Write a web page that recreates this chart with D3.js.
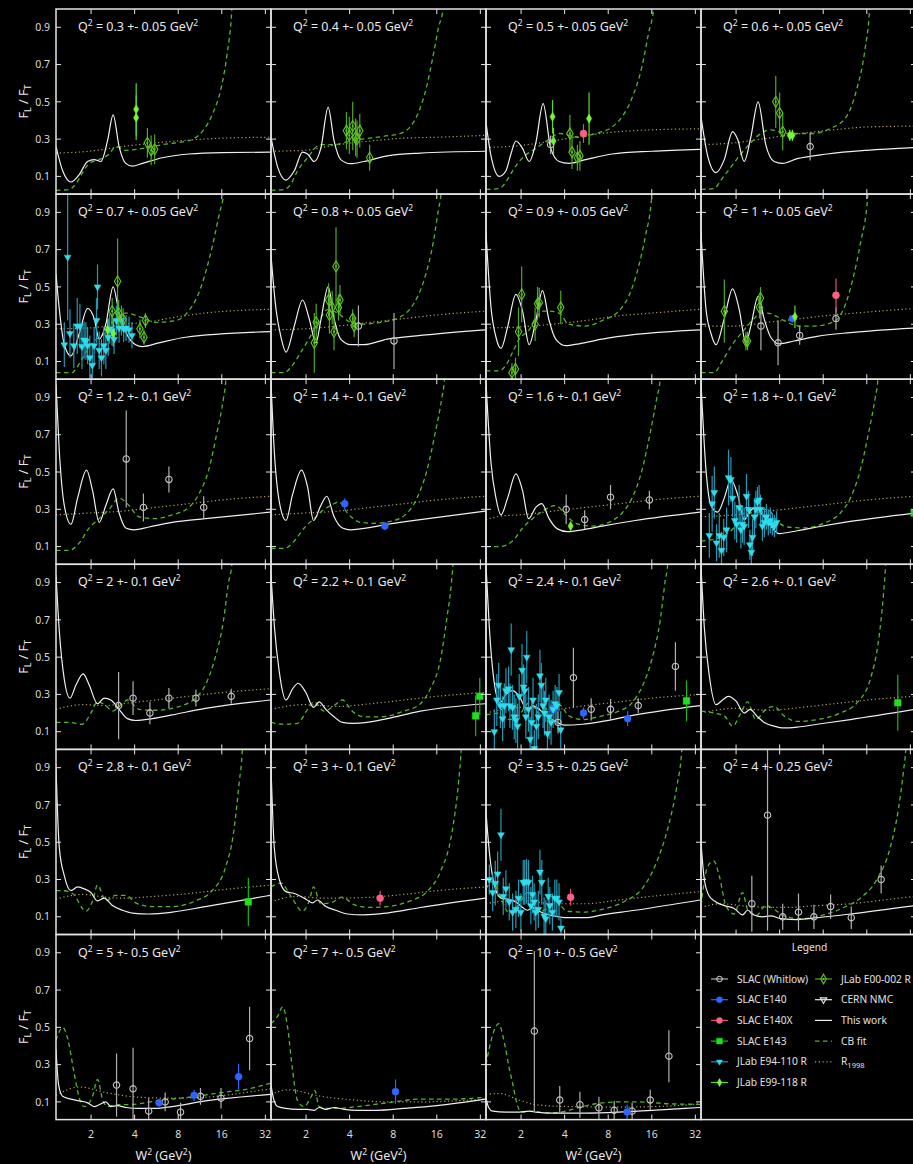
<!DOCTYPE html>
<html>
<head>
<meta charset="utf-8">
<script src="https://cdn.jsdelivr.net/npm/d3@7"></script>
<style>
    html, body { margin: 0; background: #000; }
    svg { display: block; font-family: "Noto Sans", "Open Sans", sans-serif; }
</style>
</head>
<body>
<div id="chart"></div>
<script>
// Q^2 bins, one panel each
const q2Labels = [
    "0.3 +- 0.05", "0.4 +- 0.05", "0.5 +- 0.05", "0.6 +- 0.05",
    "0.7 +- 0.05", "0.8 +- 0.05", "0.9 +- 0.05", "1 +- 0.05",
    "1.2 +- 0.1", "1.4 +- 0.1", "1.6 +- 0.1", "1.8 +- 0.1",
    "2 +- 0.1", "2.2 +- 0.1", "2.4 +- 0.1", "2.6 +- 0.1",
    "2.8 +- 0.1", "3 +- 0.1", "3.5 +- 0.25", "4 +- 0.25",
    "5 +- 0.5", "7 +- 0.5", "10 +- 0.5"
];

const xTicks = [2, 4, 8, 16, 32];
const yTicks = [0.1, 0.3, 0.5, 0.7, 0.9];

// "This work" curves, [W2, R] per panel
const thisWork = [
    [[1.145,.26],[1.273,.13],[1.453,.07],[1.658,.11],[1.892,.18],[2.102,.19],[2.337,.18],[2.597,.29],[2.841,.43],[3.124,.26],[3.472,.17],[3.859,.155],[4.52,.17],[6.2,.2],[9.46,.22],[16.0,.228],[34.5,.23]],
    [[1.145,.31],[1.273,.15],[1.453,.08],[1.658,.13],[1.892,.23],[2.048,.22],[2.276,.18],[2.529,.25],[2.841,.47],[3.124,.29],[3.472,.19],[4.068,.168],[5.024,.18],[7.268,.21],[12.32,.225],[34.5,.235]],
    [[1.145,.39],[1.24,.21],[1.415,.10],[1.572,.13],[1.702,.22],[1.842,.29],[2.048,.25],[2.276,.18],[2.529,.28],[2.841,.49],[3.207,.25],[3.66,.18],[4.288,.17],[5.583,.19],[8.514,.22],[16.0,.235],[34.5,.245]],
    [[1.145,.42],[1.273,.21],[1.453,.12],[1.658,.19],[1.892,.34],[2.048,.30],[2.276,.18],[2.529,.31],[2.841,.50],[3.207,.27],[3.66,.18],[4.176,.17],[5.296,.195],[8.514,.22],[16.0,.24],[34.5,.255]],
    [[1.145,.57],[1.207,.38],[1.307,.19],[1.453,.13],[1.658,.25],[1.892,.385],[2.102,.33],[2.276,.22],[2.529,.30],[2.841,.50],[3.124,.36],[3.565,.24],[4.068,.19],[4.52,.18],[5.885,.20],[9.0,.23],[34.5,.26]],
    [[1.145,.67],[1.24,.38],[1.342,.23],[1.453,.15],[1.658,.29],[1.892,.43],[2.102,.33],[2.337,.20],[2.529,.32],[2.841,.50],[3.124,.33],[3.472,.22],[4.068,.19],[5.024,.19],[7.268,.22],[12.32,.24],[34.5,.27]],
    [[1.145,.79],[1.24,.39],[1.342,.23],[1.453,.17],[1.614,.285],[1.842,.46],[2.048,.37],[2.276,.19],[2.529,.32],[2.811,.48],[3.124,.32],[3.472,.22],[4.068,.185],[5.024,.195],[7.268,.22],[12.32,.245],[34.5,.27]],
    [[1.145,.79],[1.24,.38],[1.342,.25],[1.453,.19],[1.658,.33],[1.892,.49],[2.102,.38],[2.337,.20],[2.529,.29],[2.841,.45],[3.124,.33],[3.472,.23],[3.962,.195],[5.024,.21],[7.268,.235],[12.32,.255],[34.5,.28]],
    [[1.145,.97],[1.207,.61],[1.307,.32],[1.453,.22],[1.614,.36],[1.862,.51],[2.048,.40],[2.276,.23],[2.529,.32],[2.841,.41],[3.124,.28],[3.472,.20],[3.962,.19],[5.024,.205],[7.268,.23],[12.32,.25],[34.5,.285]],
    [[1.145,.98],[1.207,.61],[1.307,.34],[1.453,.24],[1.614,.38],[1.862,.51],[2.048,.42],[2.252,.24],[2.529,.32],[2.781,.37],[3.124,.26],[3.565,.20],[4.068,.19],[5.296,.20],[7.268,.22],[12.32,.245],[34.5,.29]],
    [[1.145,.98],[1.24,.55],[1.342,.36],[1.453,.27],[1.614,.36],[1.842,.49],[2.048,.40],[2.252,.25],[2.529,.31],[2.781,.33],[3.124,.25],[3.565,.195],[4.176,.18],[5.296,.19],[7.268,.21],[12.32,.24],[34.5,.285]],
    [[1.145,.98],[1.24,.51],[1.342,.32],[1.491,.285],[1.658,.36],[1.842,.46],[2.048,.38],[2.276,.245],[2.529,.295],[2.738,.31],[3.043,.27],[3.472,.21],[3.962,.17],[5.296,.185],[7.268,.205],[12.32,.235],[34.5,.28]],
    [[1.145,.94],[1.207,.64],[1.307,.38],[1.43,.28],[1.572,.35],[1.766,.41],[1.942,.35],[2.216,.25],[2.463,.28],[2.738,.27],[3.124,.22],[3.565,.17],[4.068,.16],[5.296,.17],[7.268,.19],[12.32,.225],[34.5,.27]],
    [[1.145,.94],[1.207,.67],[1.307,.42],[1.453,.27],[1.614,.33],[1.766,.36],[1.994,.31],[2.252,.23],[2.463,.26],[2.738,.22],[3.124,.18],[3.565,.15],[4.176,.145],[5.296,.15],[7.268,.17],[12.32,.21],[34.5,.25]],
    [[1.145,.99],[1.207,.66],[1.307,.36],[1.43,.255],[1.572,.30],[1.748,.32],[1.942,.29],[2.216,.215],[2.399,.24],[2.666,.22],[3.043,.18],[3.472,.155],[3.962,.135],[5.296,.14],[7.268,.155],[12.32,.19],[34.5,.24]],
    [[1.145,.99],[1.207,.66],[1.307,.40],[1.453,.245],[1.614,.27],[1.766,.29],[1.994,.265],[2.276,.20],[2.503,.22],[2.811,.18],[3.207,.145],[3.66,.13],[4.176,.12],[5.296,.125],[7.268,.14],[12.32,.165],[34.5,.22]],
    [[1.145,.90],[1.207,.47],[1.307,.32],[1.453,.24],[1.614,.26],[1.794,.25],[1.994,.23],[2.216,.185],[2.463,.20],[2.811,.16],[3.293,.135],[3.859,.12],[5.024,.115],[7.268,.125],[12.32,.155],[34.5,.215]],
    [[1.145,.90],[1.207,.47],[1.307,.30],[1.453,.235],[1.658,.225],[1.942,.20],[2.216,.175],[2.399,.19],[2.738,.155],[3.207,.135],[3.859,.115],[5.024,.11],[7.268,.12],[12.32,.15],[34.5,.20]],
    [[1.145,.66],[1.207,.45],[1.307,.27],[1.453,.20],[1.614,.195],[1.842,.18],[2.048,.15],[2.216,.135],[2.399,.15],[2.666,.13],[3.124,.11],[3.66,.10],[4.288,.095],[5.583,.095],[7.268,.11],[12.32,.135],[34.5,.19]],
    [[1.145,.50],[1.207,.30],[1.307,.21],[1.453,.18],[1.658,.16],[1.942,.145],[2.216,.11],[2.399,.135],[2.666,.11],[3.043,.10],[3.472,.105],[4.068,.09],[5.296,.085],[7.268,.095],[12.32,.115],[34.5,.16]],
    [[1.145,.38],[1.194,.19],[1.273,.13],[1.453,.115],[1.658,.105],[1.892,.095],[2.102,.075],[2.276,.085],[2.529,.10],[2.738,.075],[3.043,.08],[3.472,.07],[4.288,.065],[5.583,.065],[7.268,.075],[12.32,.105],[34.5,.14]],
    [[1.145,.19],[1.194,.115],[1.273,.075],[1.453,.065],[1.748,.06],[2.048,.06],[2.276,.055],[2.463,.07],[2.738,.06],[3.124,.07],[3.66,.06],[4.52,.055],[6.204,.055],[9.462,.065],[16.0,.08],[34.5,.115]],
    [[1.145,.12],[1.194,.07],[1.273,.05],[1.572,.045],[1.942,.045],[2.276,.05],[2.529,.045],[3.293,.04],[5.583,.04],[9.462,.045],[16.0,.055],[34.5,.07]]
];

// CB fit curves
const cbFit = [
    [[1.145,.025],[1.415,.03],[1.572,.06],[1.748,.12],[1.942,.17],[2.276,.19],[2.666,.22],[2.963,.26],[3.472,.24],[4.52,.25],[6.204,.27],[8.514,.285],[10.13,.30],[11.87,.345],[13.9,.44],[15.9,.58],[17.36,.75],[18.79,1.0],[19.6,1.3]],
    [[1.145,.025],[1.415,.03],[1.572,.06],[1.748,.13],[2.048,.20],[2.503,.27],[3.09,.27],[4.03,.29],[6.85,.315],[8.92,.33],[10.45,.365],[12.06,.45],[13.6,.58],[15.2,.76],[16.46,.90],[17.7,1.0],[18.5,1.3]],
    [[1.145,.03],[1.415,.035],[1.572,.07],[1.748,.13],[2.048,.20],[2.529,.25],[3.124,.30],[3.66,.33],[5.024,.31],[6.54,.33],[8.514,.365],[9.974,.42],[11.68,.52],[13.69,.69],[15.21,.87],[16.46,1.0],[17.3,1.3]],
    [[1.145,.03],[1.415,.035],[1.572,.08],[1.842,.15],[2.159,.22],[2.529,.28],[2.963,.33],[3.472,.35],[4.46,.33],[6.81,.33],[8.87,.355],[11.56,.42],[13.55,.56],[15.47,.77],[16.74,1.0],[17.5,1.3]],
    [[1.145,.04],[1.491,.04],[1.572,.06],[1.748,.12],[2.048,.20],[2.529,.26],[2.841,.32],[3.52,.36],[4.34,.34],[5.66,.31],[7.77,.32],[9.11,.357],[11.26,.48],[13.2,.66],[15.47,.90],[16.48,1.0],[17.3,1.3]],
    [[1.145,.04],[1.415,.04],[1.572,.07],[1.842,.15],[2.159,.24],[2.463,.32],[2.841,.38],[3.293,.36],[4.068,.31],[4.765,.30],[6.54,.31],[8.975,.34],[11.08,.41],[12.98,.53],[15.21,.75],[16.46,.92],[17.1,1.0],[17.8,1.3]],
    [[1.145,.05],[1.415,.05],[1.572,.08],[1.748,.15],[1.942,.22],[2.276,.27],[2.529,.33],[2.811,.37],[3.124,.37],[3.66,.36],[4.288,.30],[5.583,.29],[7.268,.32],[9.462,.37],[11.08,.45],[12.98,.61],[14.43,.77],[16.04,1.0],[16.9,1.3]],
    [[1.145,.04],[1.415,.04],[1.572,.09],[1.842,.18],[2.276,.27],[2.666,.33],[2.963,.36],[3.293,.36],[3.859,.34],[4.52,.31],[5.583,.29],[6.81,.29],[9.3,.31],[11.56,.42],[12.98,.56],[14.43,.73],[16.3,1.0],[17.1,1.3]],
    [[1.145,.08],[1.415,.08],[1.658,.12],[1.942,.20],[2.276,.25],[2.666,.30],[3.124,.36],[3.66,.32],[4.288,.26],[5.583,.25],[7.268,.27],[9.462,.31],[11.08,.38],[12.98,.51],[14.8,.71],[16.46,.90],[17.1,1.0],[17.8,1.3]],
    [[1.145,.09],[1.415,.09],[1.658,.13],[1.942,.20],[2.276,.25],[2.666,.30],[2.963,.32],[3.381,.34],[3.859,.28],[4.765,.23],[5.885,.225],[7.662,.235],[9.974,.28],[11.68,.36],[13.69,.51],[15.6,.71],[17.36,.90],[18.1,1.0],[18.9,1.3]],
    [[1.145,.10],[1.415,.10],[1.748,.13],[2.048,.20],[2.399,.25],[2.811,.29],[3.472,.32],[4.068,.27],[4.765,.225],[6.204,.21],[8.077,.23],[9.974,.28],[11.68,.36],[13.69,.51],[15.6,.71],[17.36,.90],[18.3,1.0],[19.1,1.3]],
    [[1.145,.13],[1.415,.14],[1.748,.17],[2.048,.22],[2.399,.27],[2.811,.30],[3.293,.30],[3.859,.235],[4.52,.205],[5.885,.20],[8.077,.225],[10.51,.28],[12.32,.36],[14.43,.51],[16.46,.71],[18.3,.90],[19.1,1.0],[19.9,1.3]],
    [[1.145,.15],[1.415,.15],[1.748,.14],[1.994,.20],[2.216,.26],[2.529,.24],[2.811,.21],[3.293,.25],[3.565,.27],[4.288,.22],[5.583,.215],[8.514,.24],[10.51,.28],[12.32,.35],[14.43,.50],[16.46,.70],[17.8,.90],[18.79,1.0],[19.6,1.3]],
    [[1.145,.15],[1.415,.14],[1.748,.145],[2.048,.22],[2.276,.26],[2.666,.21],[3.124,.24],[3.565,.27],[4.176,.21],[5.024,.18],[6.54,.18],[9.462,.21],[12.32,.25],[14.43,.33],[16.9,.48],[18.79,.71],[20.2,.90],[20.7,1.0],[21.5,1.3]],
    [[1.145,.19],[1.415,.20],[1.658,.165],[1.942,.19],[2.276,.255],[2.666,.20],[3.124,.235],[3.66,.245],[4.288,.185],[5.296,.165],[7.268,.185],[9.462,.21],[11.68,.255],[13.69,.34],[16.04,.49],[18.3,.70],[19.81,.91],[20.6,1.0],[21.4,1.3]],
    [[1.145,.21],[1.415,.20],[1.658,.185],[1.892,.13],[2.159,.20],[2.399,.26],[2.738,.165],[3.207,.22],[3.66,.235],[4.288,.185],[5.296,.155],[7.268,.165],[10.51,.20],[13.69,.255],[16.9,.38],[19.29,.59],[20.88,.84],[21.6,1.0],[22.4,1.3]],
    [[1.145,.24],[1.273,.24],[1.491,.225],[1.842,.13],[2.048,.185],[2.216,.27],[2.529,.185],[2.963,.215],[3.472,.215],[4.068,.175],[5.296,.155],[7.268,.155],[10.51,.185],[13.69,.24],[16.9,.36],[19.29,.55],[21.1,.82],[22.2,1.0],[23.0,1.3]],
    [[1.145,.26],[1.342,.28],[1.572,.21],[1.892,.13],[2.102,.185],[2.252,.26],[2.529,.17],[2.963,.175],[3.565,.205],[4.288,.165],[5.583,.15],[7.268,.155],[10.51,.185],[13.69,.235],[16.9,.34],[20.34,.55],[22.6,.82],[23.6,1.0],[24.5,1.3]],
    [[1.145,.25],[1.273,.29],[1.415,.22],[1.658,.12],[1.942,.17],[2.216,.23],[2.529,.12],[2.963,.14],[3.472,.18],[4.176,.13],[5.296,.125],[7.268,.14],[10.51,.185],[13.69,.25],[16.9,.375],[20.88,.59],[23.83,.80],[25.8,1.0],[26.8,1.3]],
    [[1.145,.16],[1.273,.37],[1.40,.40],[1.531,.32],[1.702,.16],[1.942,.115],[2.216,.23],[2.399,.14],[2.738,.105],[3.207,.16],[3.66,.14],[4.288,.105],[5.583,.09],[7.662,.105],[11.08,.15],[14.43,.20],[18.79,.30],[23.21,.47],[26.49,.68],[28.67,.88],[29.75,1.0],[31.0,1.3]],
    [[1.145,.43],[1.273,.50],[1.378,.44],[1.531,.25],[1.658,.12],[1.794,.075],[2.048,.13],[2.216,.22],[2.399,.115],[2.597,.075],[2.963,.085],[3.472,.085],[4.288,.09],[5.583,.105],[9.462,.125],[16.04,.15],[24.47,.17],[34.5,.20]],
    [[1.145,.52],[1.273,.56],[1.378,.61],[1.491,.50],[1.614,.27],[1.748,.105],[1.942,.075],[2.159,.125],[2.30,.16],[2.463,.075],[2.811,.065],[3.293,.065],[4.52,.075],[7.268,.095],[12.32,.115],[20.88,.115],[34.5,.125]],
    [[1.145,.30],[1.273,.46],[1.40,.52],[1.531,.42],[1.658,.28],[1.748,.20],[1.892,.08],[1.994,.045],[2.399,.05],[2.963,.04],[3.758,.045],[5.024,.07],[6.54,.09],[9.462,.10],[12.98,.10],[20.88,.09],[34.5,.087]]
];

// R1998 parametrisation
const r1998 = [
    [[1.145,.225],[1.942,.235],[3.293,.26],[5.583,.28],[9.462,.295],[16.04,.305],[34.5,.31]],
    [[1.145,.235],[1.942,.24],[3.293,.27],[5.583,.29],[9.462,.305],[16.04,.31],[34.5,.32]],
    [[1.145,.255],[1.942,.265],[3.293,.29],[5.583,.32],[9.462,.34],[16.04,.35],[34.5,.355]],
    [[1.145,.27],[1.942,.28],[3.293,.305],[5.583,.33],[9.462,.35],[16.04,.365],[34.5,.37]],
    [[1.145,.275],[1.942,.28],[3.293,.30],[4.765,.31],[7.268,.335],[12.32,.36],[34.5,.38]],
    [[1.145,.27],[1.942,.275],[3.293,.29],[5.583,.31],[9.462,.33],[16.04,.35],[34.5,.37]],
    [[1.145,.28],[1.942,.285],[3.293,.30],[5.583,.32],[9.462,.345],[16.04,.36],[34.5,.38]],
    [[1.145,.29],[1.942,.29],[3.293,.31],[5.583,.33],[9.462,.35],[16.04,.365],[34.5,.385]],
    [[1.145,.27],[1.942,.28],[3.293,.29],[5.583,.31],[9.462,.33],[16.04,.35],[34.5,.37]],
    [[1.145,.27],[1.942,.28],[3.293,.29],[5.583,.31],[9.462,.33],[16.04,.35],[34.5,.37]],
    [[1.145,.245],[1.491,.265],[1.942,.27],[3.293,.29],[5.583,.31],[9.462,.33],[16.04,.35],[34.5,.37]],
    [[1.145,.26],[1.942,.27],[3.293,.29],[5.583,.31],[9.462,.33],[16.04,.35],[34.5,.37]],
    [[1.145,.22],[1.748,.245],[2.529,.24],[3.293,.25],[5.583,.27],[9.462,.29],[16.04,.31],[34.5,.33]],
    [[1.145,.22],[1.942,.245],[3.293,.235],[5.583,.25],[9.462,.27],[16.04,.29],[34.5,.31]],
    [[1.145,.20],[1.942,.23],[3.293,.22],[5.583,.24],[9.462,.26],[16.04,.28],[34.5,.30]],
    [[1.145,.20],[1.942,.225],[3.293,.215],[5.583,.23],[9.462,.25],[16.04,.27],[34.5,.29]],
    [[1.145,.195],[1.748,.22],[2.529,.205],[3.293,.20],[5.583,.21],[9.462,.225],[16.04,.245],[34.5,.27]],
    [[1.145,.18],[1.748,.21],[2.529,.20],[3.293,.20],[5.583,.205],[9.462,.22],[16.04,.24],[34.5,.26]],
    [[1.145,.17],[1.942,.19],[3.293,.17],[5.583,.17],[9.462,.19],[16.04,.21],[34.5,.235]],
    [[1.145,.15],[1.572,.17],[2.529,.155],[4.288,.15],[7.268,.16],[12.32,.17],[20.88,.19],[34.5,.21]],
    [[1.145,.135],[1.658,.18],[2.529,.15],[4.288,.125],[7.268,.12],[12.32,.125],[20.88,.145],[34.5,.17]],
    [[1.145,.14],[1.491,.165],[2.529,.13],[4.288,.11],[7.268,.10],[12.32,.10],[20.88,.105],[34.5,.115]],
    [[1.145,.14],[1.415,.145],[1.942,.11],[2.529,.085],[4.288,.075],[9.462,.072],[20.88,.078],[34.5,.09]]
];

// measurements: [panel, W2, R, error]
const slacWhitlow = [
    [2,3.2,.27,.05],[3,6.5,.26,.075],[5,4.6,.29,.11],[5,8.1,.21,.15],
    [7,2.97,.29,.13],[7,3.9,.20,.12],[7,5.5,.24,.05],[7,9.8,.33,.06],
    [8,3.5,.57,.26],[8,4.6,.31,.075],[8,6.9,.46,.07],[8,12.0,.31,.06],
    [10,4.1,.30,.08],[10,5.5,.245,.05],[10,8.3,.365,.065],[10,15.4,.35,.05],
    [12,3.1,.24,.18],[12,3.9,.28,.09],[12,5.1,.20,.06],[12,6.9,.28,.055],[12,10.6,.28,.045],[12,18.6,.29,.04],
    [14,3.6,.15,.06],[14,4.6,.39,.16],[14,6.1,.22,.06],[14,8.3,.22,.055],[14,12.9,.24,.04],[14,23.3,.45,.13],
    [19,2.57,.17,.15],[19,3.3,.645,.62],[19,4.2,.10,.07],[19,5.4,.125,.1],[19,6.9,.10,.065],[19,9.0,.155,.065],[19,12.5,.095,.06],[19,20.1,.30,.075],
    [20,3.0,.19,.17],[20,3.9,.17,.22],[20,5.0,.05,.07],[20,6.5,.10,.05],[20,8.3,.045,.05],[20,11.4,.13,.045],[20,15.8,.12,.055],[20,24.9,.44,.17],
    [22,2.47,.48,.43],[22,3.7,.11,.075],[22,5.1,.085,.07],[22,6.9,.068,.06],[22,8.8,.055,.05],[22,11.7,.05,.045],[22,15.6,.11,.055],[22,21,.345,.14]
];

const slacE140 = [
    [7,4.9,.33,.02],[9,3.7,.33,.03],[9,7.0,.21,.02],[14,3.35,.22,.03],[14,5.4,.20,.03],[14,10.9,.17,.04],
    [20,5.9,.095,.02],[20,10.3,.135,.03],[20,20.9,.235,.07],[21,8.3,.155,.065],[22,10.8,.046,.04]
];

const slacE140X = [
    [2,5.4,.33,.05],[7,9.8,.455,.09],[17,6.5,.20,.04],[18,4.4,.205,.045]
];

const slacE143 = [
    [11,34.0,.28,.03],[13,29.7,.185,.11],[13,31.7,.29,.1],[14,27.8,.265,.11],[15,26.2,.255,.15],[16,24.4,.18,.13]
];

const jlabE94110 = [
    [4,1.307,.19,.12],[4,1.378,.66,.34],[4,1.43,.25,.13],[4,1.52,.185,.12],[4,1.605,.29,.15],[4,1.675,.29,.12],[4,1.73,.18,.12],[4,1.79,.215,.1],[4,1.842,.21,.1],[4,1.892,.185,.1],
    [4,1.96,.12,.12],[4,2.04,.08,.1],[4,2.10,.185,.1],[4,2.18,.32,.12],[4,2.216,.50,.12],[4,2.276,.16,.1],[4,2.36,.12,.1],[4,2.45,.185,.1],[4,2.53,.16,.1],[4,2.63,.23,.1],
    [4,2.69,.275,.08],[4,2.79,.265,.08],[4,2.886,.22,.08],[4,2.99,.32,.08],[4,3.124,.28,.08],[4,3.24,.32,.08],[4,3.36,.275,.07],[4,3.49,.28,.07],[4,3.66,.27,.07],[4,3.83,.24,.07],
    [11,1.307,.16,.12],[11,1.367,.33,.15],[11,1.415,.39,.14],[11,1.466,.12,.1],[11,1.531,.16,.12],[11,1.586,.08,.1],[11,1.644,.15,.1],[11,1.72,.19,.12],[11,1.775,.47,.15],[11,1.842,.46,.12],
    [11,1.892,.36,.1],[11,1.96,.24,.1],[11,2.017,.22,.1],[11,2.10,.31,.12],[11,2.159,.19,.1],[11,2.216,.22,.1],[11,2.276,.21,.1],[11,2.36,.37,.12],[11,2.44,.30,.1],[11,2.49,.11,.08],
    [11,2.55,.07,.08],[11,2.60,.15,.1],[11,2.68,.26,.1],[11,2.74,.30,.1],[11,2.81,.34,.08],[11,2.886,.35,.08],[11,2.95,.30,.08],[11,3.04,.21,.08],[11,3.14,.23,.08],[11,3.24,.26,.07],
    [11,3.34,.23,.07],[11,3.45,.24,.07],[11,3.565,.22,.06],[11,3.68,.21,.06],[11,3.81,.23,.06],
    [14,1.307,.10,.12],[14,1.36,.27,.14],[14,1.40,.35,.12],[14,1.44,.24,.12],[14,1.491,.17,.12],[14,1.531,.24,.12],[14,1.572,.32,.12],[14,1.64,.33,.12],[14,1.675,.24,.12],[14,1.71,.54,.14],
    [14,1.748,.23,.12],[14,1.794,.18,.12],[14,1.842,.16,.12],[14,1.892,.13,.12],[14,1.942,.29,.12],[14,2.03,.43,.14],[14,2.08,.34,.12],[14,2.12,.32,.12],[14,2.159,.18,.12],[14,2.19,.50,.14],
    [14,2.252,.22,.12],[14,2.31,.06,.12],[14,2.37,.15,.12],[14,2.42,.27,.12],[14,2.47,.01,.1],[14,2.55,.13,.12],[14,2.63,.18,.12],[14,2.70,.40,.14],[14,2.76,.35,.12],[14,2.84,.24,.12],
    [14,2.90,.20,.12],[14,2.963,.27,.12],[14,3.043,.09,.12],[14,3.124,.18,.12],[14,3.225,.15,.12],[14,3.33,.22,.1],[14,3.44,.25,.1],[14,3.54,.24,.1],[14,3.66,.31,.1],[14,3.758,.11,.1],
    [18,1.207,.30,.08],[18,1.273,.23,.1],[18,1.327,.28,.12],[18,1.378,.33,.12],[18,1.453,.54,.14],[18,1.507,.21,.1],[18,1.572,.25,.1],[18,1.658,.18,.1],[18,1.748,.125,.1],[18,1.842,.14,.1],
    [18,1.923,.20,.1],[18,1.994,.125,.1],[18,2.07,.285,.12],[18,2.12,.285,.12],[18,2.18,.29,.12],[18,2.252,.285,.12],[18,2.337,.16,.1],[18,2.399,.22,.1],[18,2.463,.18,.1],[18,2.529,.125,.1],
    [18,2.63,.14,.1],[18,2.70,.34,.12],[18,2.78,.285,.12],[18,2.886,.105,.1],[18,2.963,.09,.1],[18,3.08,.21,.1],[18,3.16,.16,.1],[18,3.293,.125,.1],[18,3.42,.20,.1],[18,3.53,.20,.1],
    [18,3.66,.18,.1],[18,3.77,.04,.06]
];

const jlabE99118 = [
    [0,4.1,.46,.14],[0,4.1,.415,.12],[2,3.3,.42,.09],[2,3.35,.29,.07],[2,5.9,.41,.14],
    [3,4.7,.32,.03],[3,4.9,.32,.03],[4,2.6,.27,.06],[4,2.85,.25,.07],[7,5.1,.34,.06],[10,4.4,.21,.02]
];

const jlabE00002 = [
    [0,4.9,.28,.08],[0,5.2,.24,.08],[0,5.5,.245,.08],
    [1,3.8,.345,.1],[1,3.98,.32,.1],[1,4.2,.37,.13],[1,4.4,.31,.1],[1,4.5,.30,.1],[1,4.7,.345,.09],[1,5.5,.20,.07],
    [2,4.35,.33,.1],[2,4.5,.23,.09],[2,4.9,.20,.07],[2,5.1,.21,.08],
    [3,3.76,.50,.14],[3,4.0,.44,.11],[3,4.2,.34,.1],
    [4,2.8,.37,.07],[4,3.05,.53,.23],[4,3.1,.36,.07],[4,3.33,.325,.06],[4,4.35,.275,.05],[4,4.64,.23,.04],[4,4.75,.32,.04],
    [5,2.28,.20,.16],[5,2.35,.31,.1],[5,2.86,.43,.09],[5,2.9,.35,.1],[5,3.03,.39,.09],[5,3.12,.26,.1],[5,3.22,.61,.21],[5,3.35,.39,.07],[5,3.43,.43,.08],[5,4.2,.33,.05],[5,4.3,.29,.06],
    [6,1.73,.04,.05],[6,1.83,.06,.06],[6,1.92,.26,.13],[6,2.02,.46,.15],[6,2.5,.30,.09],[6,2.6,.41,.09],[6,2.67,.415,.08],[6,3.76,.39,.09],
    [7,1.66,.37,.17],[7,2.34,.21,.05],[7,2.4,.21,.05],[7,2.9,.39,.06],[7,2.95,.44,.06]
];

const cernNMC = [];

const pw = 215, ph = 185.1;
const leftEdge = 56, topEdge = 9;
const frameColor = "#e4e4e4";

const svg = d3.select("#chart").append("svg")
    .attr("width", 913)
    .attr("height", 1164);

svg.append("rect").attr("width", 913).attr("height", 1164).attr("fill", "#000");

const x = d3.scaleLog().domain([1.145, 35]).range([0, pw]);
const y = d3.scaleLinear().domain([0.005, 0.998]).range([ph, 0]);

const line = d3.line()
    .x(d => x(d[0]))
    .y(d => y(d[1]))
    .curve(d3.curveMonotoneX);

const series = [
    {name: "SLAC (Whitlow)", data: slacWhitlow, color: "#c4c4c4", bar: "#b0b0b0", symbol: d3.symbolCircle, size: 32, open: true},
    {name: "SLAC E140", data: slacE140, color: "#2c66ff", bar: "#2c66ff", symbol: d3.symbolCircle, size: 38},
    {name: "SLAC E140X", data: slacE140X, color: "#ff5f86", bar: "#e0507a", symbol: d3.symbolCircle, size: 38},
    {name: "SLAC E143", data: slacE143, color: "#1ee01e", bar: "#1cb81c", symbol: d3.symbolSquare, size: 44},
    {name: "JLab E94-110 R", data: jlabE94110, color: "#2fdcec", bar: "#2399b4", symbol: d3.symbolTriangle, size: 20, flip: true},
    {name: "JLab E99-118 R", data: jlabE99118, color: "#78f536", bar: "#5ed82a", symbol: d3.symbolDiamond, size: 24},
    {name: "JLab E00-002 R", data: jlabE00002, color: "#5fc624", bar: "#4fa824", symbol: d3.symbolDiamond, size: 36, open: true, dot: true},
    {name: "CERN NMC", data: cernNMC, color: "#e8e8e8", bar: "#e8e8e8", symbol: d3.symbolTriangle, size: 24, flip: true, open: true}
];

const lineStyles = [
    {name: "This work", data: thisWork, color: "#efefef", dash: null, width: 1.2},
    {name: "CB fit", data: cbFit, color: "#55b52a", dash: "4.5,3.5", width: 1.3},
    {name: "R", sub: "1998", data: r1998, color: "#b4a25a", dash: "1.2,2.6", width: 1.2}
];

function drawMarker(g, s, cx, cy) {
    g.append("path")
        .attr("d", d3.symbol(s.symbol, s.size)())
        .attr("transform", `translate(${cx},${cy})` + (s.flip ? " rotate(180)" : ""))
        .attr("fill", s.open ? "none" : s.color)
        .attr("stroke", s.color)
        .attr("stroke-width", s.open ? 1.1 : 0.5);
    if (s.dot) {
        g.append("circle").attr("cx", cx).attr("cy", cy).attr("r", 1.1).attr("fill", s.color);
    }
}

function drawPanel(i) {
    const row = Math.floor(i / 4), col = i % 4;
    const x0 = leftEdge + col * pw, y0 = topEdge + row * ph;
    const g = svg.append("g").attr("transform", `translate(${x0},${y0})`);

    g.append("clipPath").attr("id", "clip" + i)
        .append("rect").attr("width", pw).attr("height", ph);

    const plot = g.append("g").attr("clip-path", `url(#clip${i})`);

    [2, 1, 0].forEach(k => {
        const st = lineStyles[k];
        plot.append("path")
            .datum(st.data[i])
            .attr("fill", "none")
            .attr("stroke", st.color)
            .attr("stroke-width", st.width)
            .attr("stroke-dasharray", st.dash)
            .attr("d", line);
    });

    series.forEach(s => {
        s.data.filter(d => d[0] === i).forEach(d => {
            plot.append("line")
                .attr("x1", x(d[1])).attr("x2", x(d[1]))
                .attr("y1", y(d[2] - d[3])).attr("y2", y(d[2] + d[3]))
                .attr("stroke", s.bar)
                .attr("stroke-width", 1.2);
        });
    });
    series.forEach(s => {
        s.data.filter(d => d[0] === i).forEach(d => drawMarker(plot, s, x(d[1]), y(d[2])));
    });

    // inward ticks on all four sides
    const ticks = g.append("g").attr("stroke", frameColor).attr("stroke-width", 1);
    yTicks.forEach(t => {
        ticks.append("line").attr("x1", 0).attr("x2", 5).attr("y1", y(t)).attr("y2", y(t));
        ticks.append("line").attr("x1", pw - 5).attr("x2", pw).attr("y1", y(t)).attr("y2", y(t));
    });
    xTicks.forEach(t => {
        ticks.append("line").attr("x1", x(t)).attr("x2", x(t)).attr("y1", 0).attr("y2", 5);
        ticks.append("line").attr("x1", x(t)).attr("x2", x(t)).attr("y1", ph - 5).attr("y2", ph);
    });

    g.append("rect")
        .attr("width", pw).attr("height", ph)
        .attr("fill", "none")
        .attr("stroke", frameColor)
        .attr("stroke-width", 1.5);

    const label = g.append("text")
        .attr("x", 22).attr("y", 22)
        .attr("fill", "#e8e8e8")
        .attr("font-size", 12.5);
    label.append("tspan").text("Q");
    label.append("tspan").attr("font-size", 8.5).attr("dy", -5).text("2");
    label.append("tspan").attr("dy", 5).text(" = " + q2Labels[i] + " GeV");
    label.append("tspan").attr("font-size", 8.5).attr("dy", -5).text("2");

    if (col === 0) {
        yTicks.forEach(t => {
            g.append("text")
                .attr("x", -6).attr("y", y(t)).attr("dy", "0.35em")
                .attr("text-anchor", "end")
                .attr("fill", "#dcdcdc")
                .attr("font-size", 10.5)
                .text(t.toFixed(1));
        });
        const yl = g.append("text")
            .attr("transform", `translate(${-28},${ph / 2}) rotate(-90)`)
            .attr("text-anchor", "middle")
            .attr("fill", "#e8e8e8")
            .attr("font-size", 12.5);
        yl.append("tspan").text("F");
        yl.append("tspan").attr("font-size", 9).attr("dy", 3).text("L");
        yl.append("tspan").attr("dy", -3).text(" / F");
        yl.append("tspan").attr("font-size", 9).attr("dy", 3).text("T");
    }

    if (row === 5) {
        xTicks.forEach(t => {
            g.append("text")
                .attr("x", x(t)).attr("y", ph + 18.5)
                .attr("text-anchor", "middle")
                .attr("fill", "#dcdcdc")
                .attr("font-size", 10.5)
                .text(t);
        });
        const xl = g.append("text")
            .attr("x", pw / 2).attr("y", ph + 40)
            .attr("text-anchor", "middle")
            .attr("fill", "#e8e8e8")
            .attr("font-size", 12.5);
        xl.append("tspan").text("W");
        xl.append("tspan").attr("font-size", 8.5).attr("dy", -5).text("2");
        xl.append("tspan").attr("dy", 5).text(" (GeV");
        xl.append("tspan").attr("font-size", 8.5).attr("dy", -5).text("2");
        xl.append("tspan").attr("dy", 5).text(")");
    }
}

function drawLegend() {
    const x0 = leftEdge + 3 * pw, y0 = topEdge + 5 * ph;
    const g = svg.append("g").attr("transform", `translate(${x0},${y0})`);

    g.append("rect")
        .attr("width", pw).attr("height", ph)
        .attr("fill", "none")
        .attr("stroke", frameColor)
        .attr("stroke-width", 1.5);

    g.append("text")
        .attr("x", pw / 2 + 1).attr("y", 16.5)
        .attr("text-anchor", "middle")
        .attr("fill", "#e0e0e0")
        .attr("font-size", 10.2)
        .text("Legend");

    const entries = series.slice(0, 6).map((s, k) => ({s: s, col: 0, row: k}))
        .concat(series.slice(6).map((s, k) => ({s: s, col: 1, row: k})))
        .concat(lineStyles.map((st, k) => ({st: st, col: 1, row: k + 2})));

    entries.forEach(e => {
        const lx = e.col === 0 ? 10 : 114;
        const ly = 44.5 + e.row * 20.7;
        const item = g.append("g");
        if (e.s) {
            item.append("line")
                .attr("x1", lx).attr("x2", lx + 17).attr("y1", ly).attr("y2", ly)
                .attr("stroke", e.s.bar).attr("stroke-width", 1.2);
            drawMarker(item, Object.assign({}, e.s, {size: e.s.size * 0.75}), lx + 8.5, ly);
        } else {
            item.append("line")
                .attr("x1", lx).attr("x2", lx + 17).attr("y1", ly).attr("y2", ly)
                .attr("stroke", e.st.color)
                .attr("stroke-width", e.st.width)
                .attr("stroke-dasharray", e.st.dash);
        }
        const t = item.append("text")
            .attr("x", lx + 26).attr("y", ly).attr("dy", "0.35em")
            .attr("fill", "#e0e0e0")
            .attr("font-size", 10.2);
        const name = e.s ? e.s.name : e.st.name;
        t.append("tspan").text(name);
        if (e.st && e.st.sub) {
            t.append("tspan").attr("font-size", 7.5).attr("dy", 3).text(e.st.sub);
        }
    });
}

q2Labels.forEach((label, i) => drawPanel(i));
drawLegend();
</script>
</body>
</html>
